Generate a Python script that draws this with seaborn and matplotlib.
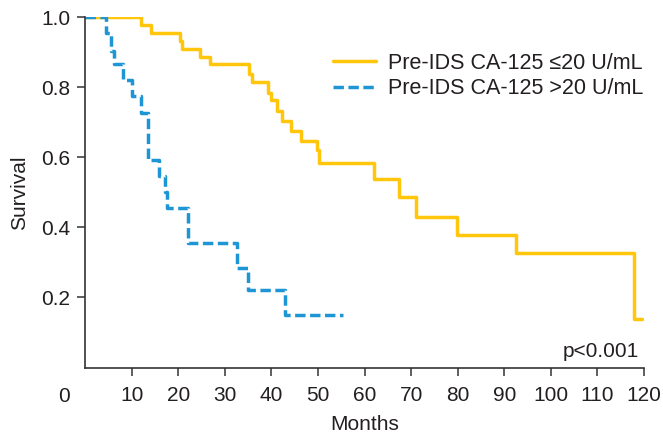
import numpy as np
import pandas as pd
import matplotlib
matplotlib.use("Agg")
import matplotlib.pyplot as plt
import matplotlib.transforms as mtransforms
import seaborn as sns

# ---- data ----
low_label = "Pre-IDS CA-125 \u226420 U/mL"
high_label = "Pre-IDS CA-125 >20 U/mL"

low_months = [0, 12.0, 14.1, 20.4, 20.9, 24.7, 26.8, 35.2, 35.9, 39.2, 40.0, 41.2, 42.3,
              44.3, 46.3, 49.9, 50.3, 62.1, 67.4, 71.1, 79.9, 92.5, 117.9, 119.6]
low_surv = [1.0, 0.979, 0.955, 0.931, 0.91, 0.886, 0.868, 0.839, 0.814, 0.784, 0.765, 0.733,
            0.705, 0.674, 0.646, 0.62, 0.584, 0.537, 0.486, 0.431, 0.379, 0.327, 0.139, 0.139]

high_months = [0, 4.6, 5.5, 6.3, 8.2, 10.0, 12.0, 13.6, 15.9, 17.1, 17.7, 22.2, 32.7, 35.0,
               42.9, 55.3]
high_surv = [1.0, 0.955, 0.903, 0.867, 0.822, 0.774, 0.727, 0.593, 0.546, 0.50, 0.455, 0.355,
             0.284, 0.222, 0.149, 0.149]

x_ticks = [10, 20, 30, 40, 50, 60, 70, 80, 90, 100, 110, 120]
y_ticks = [0.2, 0.4, 0.6, 0.8, 1.0]
p_text = "p<0.001"

df = pd.concat([
    pd.DataFrame({"Months": low_months, "Survival": low_surv, "Group": low_label}),
    pd.DataFrame({"Months": high_months, "Survival": high_surv, "Group": high_label}),
], ignore_index=True)

sns.set_theme(style="white")
plt.rcParams["font.family"] = ["Liberation Sans", "DejaVu Sans"]

fig = plt.figure(figsize=(6.63, 4.36), dpi=100)
ax = fig.add_axes([85 / 663, 68.5 / 436, 559 / 663, 350.2 / 436])

yellow = "#FFC60B"
blue = "#1E96D6"
sns.lineplot(data=df, x="Months", y="Survival", hue="Group", style="Group",
             palette={low_label: yellow, high_label: blue},
             dashes={low_label: "", high_label: (3, 1.3)},
             drawstyle="steps-post", estimator=None, sort=False,
             linewidth=2.5, ax=ax)

ax.set_xlim(0, 120)
ax.set_ylim(0, 1.0)
ax.set_xticks(x_ticks)
ax.set_xticklabels([str(t) for t in x_ticks])
ax.set_yticks(y_ticks)
ax.set_yticklabels([f"{t:.1f}" for t in y_ticks])

for s in ["top", "right"]:
    ax.spines[s].set_visible(False)
for s in ["left", "bottom"]:
    ax.spines[s].set_color("#333333")
    ax.spines[s].set_linewidth(1.2)

ax.tick_params(axis="both", direction="out", length=5.5, width=1.1, color="#333333",
               labelsize=15, labelcolor="#231F20", bottom=True, left=True)
ax.tick_params(axis="x", pad=8)
ax.tick_params(axis="y", pad=5)

ax.set_xlabel("Months", fontsize=15, color="#231F20", labelpad=7)
ax.set_ylabel("Survival", fontsize=15, color="#231F20", labelpad=9)

# shared origin label, on the same row as the x tick labels
trans = mtransforms.blended_transform_factory(ax.transAxes, ax.transAxes)
ax.text(-21 / 559, -19.5 / 350.2, "0", transform=trans, fontsize=15, color="#231F20",
        ha="center", va="top")

ax.text(118.9, 0.031, p_text, fontsize=15, color="#231F20", ha="right", va="baseline")

leg = ax.legend(loc="upper left", bbox_to_anchor=(333 / 663, 1 - 53 / 436),
                bbox_transform=fig.transFigure, frameon=False, fontsize=15.5,
                handlelength=2.0, handletextpad=0.55, labelspacing=0.2,
                borderpad=0, borderaxespad=0, title=None)
for t in leg.get_texts():
    t.set_color("#231F20")

fig.savefig("out.png", dpi=100)
